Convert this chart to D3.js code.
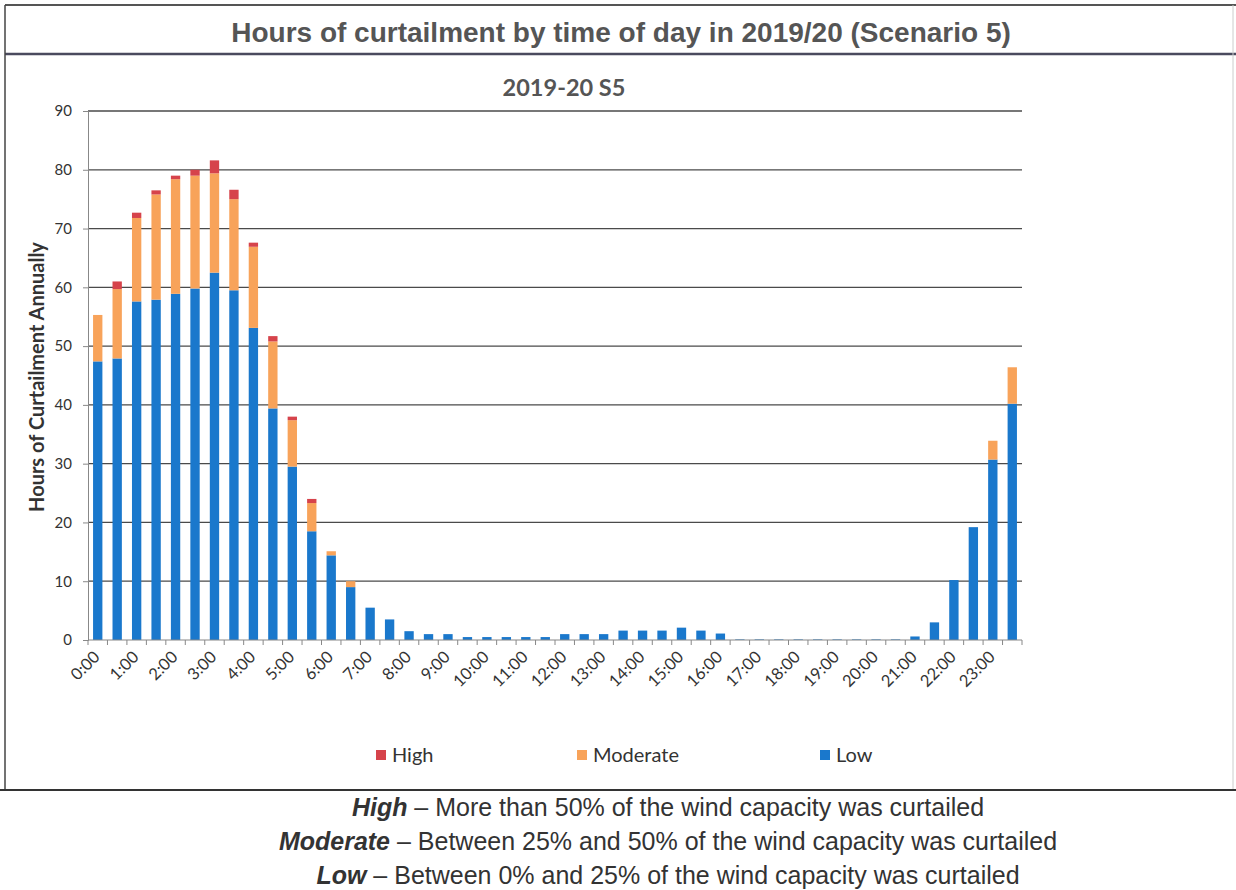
<!DOCTYPE html>
<html>
<head>
<meta charset="utf-8">
<script src="https://cdn.jsdelivr.net/npm/d3@7"></script>
<style>
  html, body { margin: 0; padding: 0; background: #fff; }
  svg { display: block; }
</style>
</head>
<body>
<svg id="chart" width="1236" height="890"></svg>
<script>
// Half-hour slots across the day
const slots = [];
for (let h = 0; h < 24; h++) { slots.push(h + ":00", h + ":30"); }

// Hours of curtailment per slot, by severity
const lowHours = [47.4, 47.9, 57.6, 57.9, 58.9, 59.8, 62.5, 59.5, 53.1, 39.4, 29.5, 18.5,
                  14.4, 9.0, 5.5, 3.5, 1.5, 1.0, 1.0, 0.5, 0.5, 0.5, 0.5, 0.5,
                  1.0, 1.0, 1.0, 1.6, 1.6, 1.6, 2.1, 1.6, 1.1, 0.1, 0.1, 0.1,
                  0.1, 0.1, 0.1, 0.1, 0.1, 0.1, 0.6, 3.0, 10.2, 19.2, 30.7, 40.2];
const moderateHours = [7.9, 11.8, 14.2, 17.9, 19.5, 19.2, 16.9, 15.5, 13.8, 11.4, 7.9, 4.8,
                       0.7, 1.0, 0, 0, 0, 0, 0, 0, 0, 0, 0, 0,
                       0, 0, 0, 0, 0, 0, 0, 0, 0, 0, 0, 0,
                       0, 0, 0, 0, 0, 0, 0, 0, 0, 0, 3.2, 6.2];
const highHours = [0, 1.3, 0.9, 0.7, 0.6, 1.0, 2.2, 1.6, 0.7, 0.9, 0.6, 0.7,
                   0, 0, 0, 0, 0, 0, 0, 0, 0, 0, 0, 0,
                   0, 0, 0, 0, 0, 0, 0, 0, 0, 0, 0, 0,
                   0, 0, 0, 0, 0, 0, 0, 0, 0, 0, 0, 0];

const seriesKeys = ["low", "moderate", "high"];
const seriesNames = { low: "Low", moderate: "Moderate", high: "High" };
const seriesColors = { low: "#1a78cc", moderate: "#f8a35a", high: "#d6434b" };
const yTicks = [0, 10, 20, 30, 40, 50, 60, 70, 80, 90];
const legendOrder = ["high", "moderate", "low"];

const rows = slots.map((s, i) => ({ slot: s, low: lowHours[i], moderate: moderateHours[i], high: highHours[i] }));
const stacked = d3.stack().keys(seriesKeys)(rows);

const svg = d3.select("#chart");
const chartFont = "Lato, 'Open Sans', sans-serif";
const boxFont = "'Liberation Sans', Arial, sans-serif";

// Frame around the figure
const frame = svg.append("g").attr("fill", "none");
frame.append("line").attr("x1", 5).attr("x2", 1236).attr("y1", 5).attr("y2", 5)
  .attr("stroke", "#555").attr("stroke-width", 2);
frame.append("line").attr("x1", 5).attr("x2", 1236).attr("y1", 54).attr("y2", 54)
  .attr("stroke", "#4a4a5e").attr("stroke-width", 2.5);
frame.append("line").attr("x1", 5).attr("x2", 5).attr("y1", 5).attr("y2", 790)
  .attr("stroke", "#444").attr("stroke-width", 1.5);
frame.append("line").attr("x1", 1233).attr("x2", 1233).attr("y1", 5).attr("y2", 790)
  .attr("stroke", "#ccc").attr("stroke-width", 1);
frame.append("line").attr("x1", 0).attr("x2", 1236).attr("y1", 790).attr("y2", 790)
  .attr("stroke", "#333").attr("stroke-width", 2);

// Titles
svg.append("text").attr("x", 621).attr("y", 42).attr("text-anchor", "middle")
  .attr("font-family", boxFont).attr("font-weight", "bold").attr("font-size", 28)
  .attr("fill", "#555").text("Hours of curtailment by time of day in 2019/20 (Scenario 5)");
svg.append("text").attr("x", 564).attr("y", 96).attr("text-anchor", "middle")
  .attr("font-family", chartFont).attr("font-weight", "bold").attr("font-size", 23.5)
  .attr("fill", "#555").text("2019-20 S5");

// Scales
const x = d3.scaleBand().domain(slots).range([88, 1022]).paddingInner(0.52).paddingOuter(0.26);
const y = d3.scaleLinear().domain([0, 90]).range([640, 111]);
const step = x.step();
const bandLeft = s => x(s) - x.paddingInner() * step / 2;

// Horizontal gridlines
svg.append("g").selectAll("line").data(yTicks.filter(t => t > 0)).join("line")
  .attr("x1", 88).attr("x2", 1022).attr("y1", d => y(d)).attr("y2", d => y(d))
  .attr("stroke", "#4a4a4a").attr("stroke-width", 1.3);

// Y axis
const yAxis = svg.append("g").attr("transform", "translate(88,0)")
  .call(d3.axisLeft(y).tickValues(yTicks).tickSize(5).tickPadding(11));
yAxis.select(".domain").attr("stroke", "#888");
yAxis.selectAll(".tick line").attr("stroke", "#888");
yAxis.selectAll("text").attr("font-family", chartFont).attr("font-size", 15).attr("fill", "#333");

svg.append("text").attr("transform", "translate(44,377) rotate(-90)").attr("text-anchor", "middle")
  .attr("font-family", chartFont).attr("font-weight", "bold").attr("font-size", 20)
  .attr("fill", "#333").text("Hours of Curtailment Annually");

// Stacked bars
svg.append("g").selectAll("g").data(stacked).join("g")
  .attr("fill", d => seriesColors[d.key])
  .selectAll("rect").data(d => d).join("rect")
  .attr("x", d => x(d.data.slot))
  .attr("width", x.bandwidth())
  .attr("y", d => y(d[1]))
  .attr("height", d => Math.max(0, y(d[0]) - y(d[1])));

// X axis: baseline, ticks at every slot boundary, hourly labels
const xg = svg.append("g");
xg.append("line").attr("x1", 88).attr("x2", 1022).attr("y1", 640).attr("y2", 640)
  .attr("stroke", "#888").attr("stroke-width", 1.2);
const boundaries = slots.map(bandLeft).concat([1022]);
xg.selectAll("line.tk").data(boundaries).join("line").attr("class", "tk")
  .attr("x1", d => d).attr("x2", d => d).attr("y1", 640).attr("y2", 645)
  .attr("stroke", "#888");
xg.selectAll("text").data(slots.filter((s, i) => i % 2 === 0)).join("text")
  .attr("transform", s => `translate(${x(s) + x.bandwidth() / 2 - 1},${654}) rotate(-45)`)
  .attr("text-anchor", "end").attr("dy", "0.35em")
  .attr("font-family", chartFont).attr("font-size", 16.5).attr("fill", "#333")
  .text(s => s);

// Legend
const legendX = { high: 376, moderate: 577, low: 820 };
const lg = svg.append("g").selectAll("g").data(legendOrder).join("g")
  .attr("transform", k => `translate(${legendX[k]},750)`);
lg.append("rect").attr("width", 10).attr("height", 10).attr("fill", k => seriesColors[k]);
lg.append("text").attr("x", 16).attr("y", 12)
  .attr("font-family", chartFont).attr("font-size", 20).attr("fill", "#333")
  .text(k => seriesNames[k]);

// Definitions of each severity band
const notes = [
  ["High", " – More than 50% of the wind capacity was curtailed"],
  ["Moderate", " – Between 25% and 50% of the wind capacity was curtailed"],
  ["Low", " – Between 0% and 25% of the wind capacity was curtailed"]
];
svg.append("g").selectAll("text").data(notes).join("text")
  .attr("x", 668).attr("y", (d, i) => 816 + i * 34).attr("text-anchor", "middle")
  .attr("font-family", boxFont).attr("font-size", 25).attr("fill", "#333")
  .each(function (d) {
    const t = d3.select(this);
    t.append("tspan").attr("font-weight", "bold").attr("font-style", "italic").text(d[0]);
    t.append("tspan").text(d[1]);
  });
</script>
</body>
</html>
